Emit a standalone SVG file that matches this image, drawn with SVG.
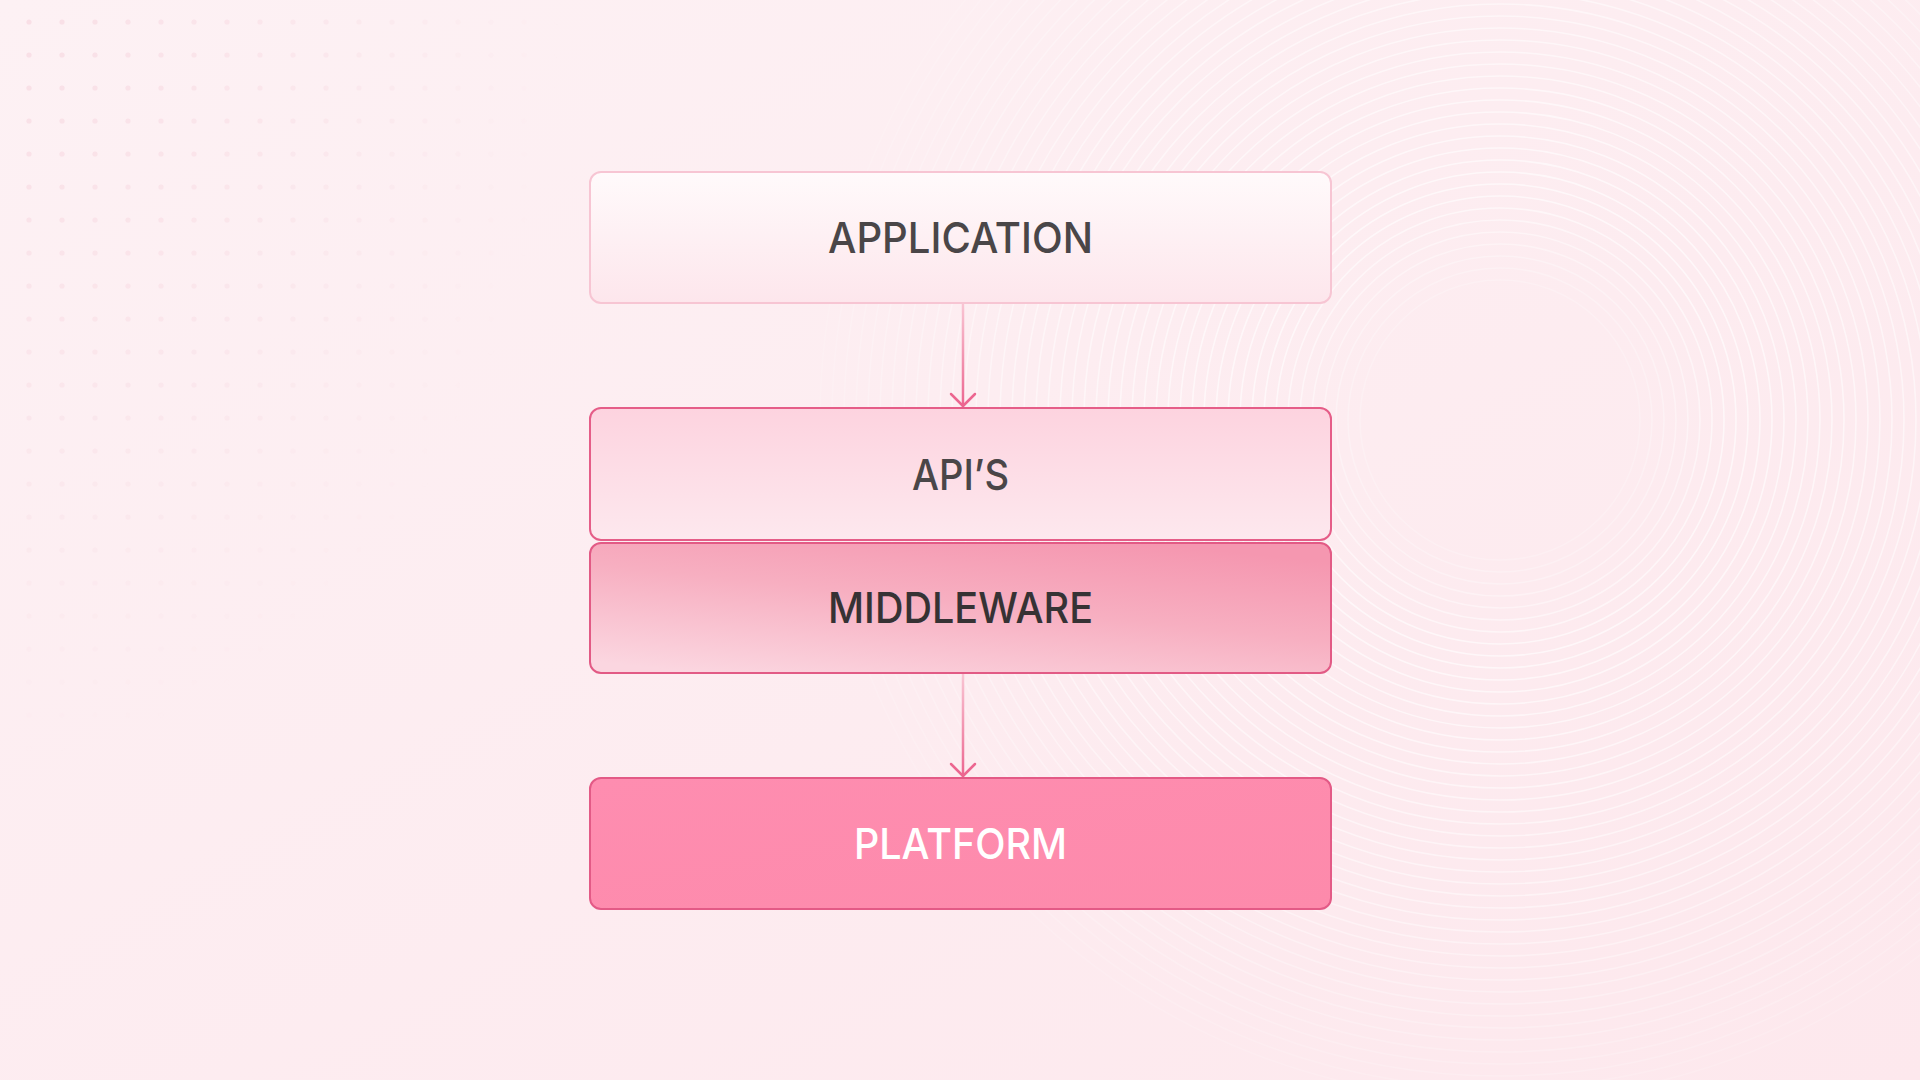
<svg xmlns="http://www.w3.org/2000/svg" width="1920" height="1080" viewBox="0 0 1920 1080">
  <defs>
    <style>
      .lbl { font-family: "Inter", "Liberation Sans", sans-serif; font-size: 43px; font-weight: 500; text-anchor: middle; }
      .dark { fill: #4a4648; }
      .darker { fill: #363234; }
      .light { fill: #ffffff; }
      .ring { fill: none; stroke: #ffffff; stroke-width: 1.6; }
      .conn { fill: none; stroke-width: 2.5; stroke-linecap: round; }
    </style>
    <linearGradient id="bg" x1="0" y1="0" x2="1" y2="1">
      <stop offset="0" stop-color="#fdf1f4"/>
      <stop offset="1" stop-color="#fde8ed"/>
    </linearGradient>
    <pattern id="dots" x="12" y="5" width="33" height="33" patternUnits="userSpaceOnUse">
      <circle cx="17" cy="17" r="2.6" fill="#f7d6df"/>
    </pattern>
    <radialGradient id="dotFade" cx="0" cy="0" r="1" gradientUnits="objectBoundingBox">
      <stop offset="0" stop-color="#fff" stop-opacity="0.7"/>
      <stop offset="0.6" stop-color="#fff" stop-opacity="0.3"/>
      <stop offset="1" stop-color="#fff" stop-opacity="0"/>
    </radialGradient>
    <mask id="dotMask">
      <rect x="0" y="0" width="560" height="760" fill="url(#dotFade)"/>
    </mask>
    <radialGradient id="ringFade" cx="1500" cy="420" r="760" gradientUnits="userSpaceOnUse">
      <stop offset="0.15" stop-color="#fff" stop-opacity="0.1"/>
      <stop offset="0.3" stop-color="#fff" stop-opacity="0.6"/>
      <stop offset="0.65" stop-color="#fff" stop-opacity="0.45"/>
      <stop offset="1" stop-color="#fff" stop-opacity="0"/>
    </radialGradient>
    <mask id="ringMask">
      <rect x="0" y="0" width="1920" height="1080" fill="url(#ringFade)"/>
    </mask>
    <linearGradient id="gApp" x1="0" y1="0" x2="0" y2="1">
      <stop offset="0" stop-color="#fffafb"/>
      <stop offset="1" stop-color="#fde6ec"/>
    </linearGradient>
    <linearGradient id="gApi" x1="0" y1="0" x2="0" y2="1">
      <stop offset="0" stop-color="#fdd3df"/>
      <stop offset="1" stop-color="#fde8ee"/>
    </linearGradient>
    <linearGradient id="gMid" x1="0.15" y1="1" x2="0.75" y2="0">
      <stop offset="0" stop-color="#fbd6e0"/>
      <stop offset="0.55" stop-color="#f7afc1"/>
      <stop offset="1" stop-color="#f597b0"/>
    </linearGradient>
    <linearGradient id="gPlat" x1="0" y1="0" x2="1" y2="1">
      <stop offset="0" stop-color="#fe8db0"/>
      <stop offset="1" stop-color="#fd8aab"/>
    </linearGradient>
    <linearGradient id="gConn1" x1="0" y1="303" x2="0" y2="407" gradientUnits="userSpaceOnUse">
      <stop offset="0" stop-color="#f9c6d4"/>
      <stop offset="1" stop-color="#ec6690"/>
    </linearGradient>
    <linearGradient id="gConn2" x1="0" y1="673" x2="0" y2="777" gradientUnits="userSpaceOnUse">
      <stop offset="0" stop-color="#f9c6d4"/>
      <stop offset="1" stop-color="#ec6690"/>
    </linearGradient>
    <marker id="arrow" viewBox="0 0 30 16" refX="15" refY="14" markerWidth="30" markerHeight="16" markerUnits="userSpaceOnUse" orient="0">
      <path d="M3,2 L15,14 L27,2" fill="none" stroke="#ec6690" stroke-width="2.5" stroke-linecap="round" stroke-linejoin="round"/>
    </marker>
  </defs>

  <!-- background -->
  <rect x="0" y="0" width="1920" height="1080" fill="url(#bg)"/>
  <rect x="0" y="0" width="560" height="760" fill="url(#dots)" mask="url(#dotMask)"/>
  <g id="rings" mask="url(#ringMask)">
    <circle class="ring" cx="1500" cy="420" r="140"/>
    <circle class="ring" cx="1500" cy="420" r="152"/>
    <circle class="ring" cx="1500" cy="420" r="164"/>
    <circle class="ring" cx="1500" cy="420" r="176"/>
    <circle class="ring" cx="1500" cy="420" r="188"/>
    <circle class="ring" cx="1500" cy="420" r="200"/>
    <circle class="ring" cx="1500" cy="420" r="212"/>
    <circle class="ring" cx="1500" cy="420" r="224"/>
    <circle class="ring" cx="1500" cy="420" r="236"/>
    <circle class="ring" cx="1500" cy="420" r="248"/>
    <circle class="ring" cx="1500" cy="420" r="260"/>
    <circle class="ring" cx="1500" cy="420" r="272"/>
    <circle class="ring" cx="1500" cy="420" r="284"/>
    <circle class="ring" cx="1500" cy="420" r="296"/>
    <circle class="ring" cx="1500" cy="420" r="308"/>
    <circle class="ring" cx="1500" cy="420" r="320"/>
    <circle class="ring" cx="1500" cy="420" r="332"/>
    <circle class="ring" cx="1500" cy="420" r="344"/>
    <circle class="ring" cx="1500" cy="420" r="356"/>
    <circle class="ring" cx="1500" cy="420" r="368"/>
    <circle class="ring" cx="1500" cy="420" r="380"/>
    <circle class="ring" cx="1500" cy="420" r="392"/>
    <circle class="ring" cx="1500" cy="420" r="404"/>
    <circle class="ring" cx="1500" cy="420" r="416"/>
    <circle class="ring" cx="1500" cy="420" r="428"/>
    <circle class="ring" cx="1500" cy="420" r="440"/>
    <circle class="ring" cx="1500" cy="420" r="452"/>
    <circle class="ring" cx="1500" cy="420" r="464"/>
    <circle class="ring" cx="1500" cy="420" r="476"/>
    <circle class="ring" cx="1500" cy="420" r="488"/>
    <circle class="ring" cx="1500" cy="420" r="500"/>
    <circle class="ring" cx="1500" cy="420" r="512"/>
    <circle class="ring" cx="1500" cy="420" r="524"/>
    <circle class="ring" cx="1500" cy="420" r="536"/>
    <circle class="ring" cx="1500" cy="420" r="548"/>
    <circle class="ring" cx="1500" cy="420" r="560"/>
    <circle class="ring" cx="1500" cy="420" r="572"/>
    <circle class="ring" cx="1500" cy="420" r="584"/>
    <circle class="ring" cx="1500" cy="420" r="596"/>
    <circle class="ring" cx="1500" cy="420" r="608"/>
    <circle class="ring" cx="1500" cy="420" r="620"/>
    <circle class="ring" cx="1500" cy="420" r="632"/>
    <circle class="ring" cx="1500" cy="420" r="644"/>
    <circle class="ring" cx="1500" cy="420" r="656"/>
    <circle class="ring" cx="1500" cy="420" r="668"/>
    <circle class="ring" cx="1500" cy="420" r="680"/>
  </g>

  <!-- connectors -->
  <g id="connectors">
    <line class="conn" x1="963" y1="304" x2="963" y2="406" stroke="url(#gConn1)" marker-end="url(#arrow)"/>
    <line class="conn" x1="963" y1="674" x2="963" y2="776" stroke="url(#gConn2)" marker-end="url(#arrow)"/>
  </g>

  <!-- nodes -->
  <g id="node-application">
    <rect x="590" y="172" width="741" height="131" rx="11" fill="url(#gApp)" stroke="#f7c5d3" stroke-width="2"/>
    <text class="lbl dark" x="960.5" y="253" textLength="265" lengthAdjust="spacingAndGlyphs">APPLICATION</text>
  </g>
  <g id="node-apis">
    <rect x="590" y="408" width="741" height="132" rx="11" fill="url(#gApi)" stroke="#e55d88" stroke-width="2"/>
    <text class="lbl dark" x="960.5" y="490" textLength="97" lengthAdjust="spacingAndGlyphs">API’S</text>
  </g>
  <g id="node-middleware">
    <rect x="590" y="543" width="741" height="130" rx="11" fill="url(#gMid)" stroke="#e25a85" stroke-width="2"/>
    <text class="lbl darker" x="960.5" y="623" textLength="265" lengthAdjust="spacingAndGlyphs">MIDDLEWARE</text>
  </g>
  <g id="node-platform">
    <rect x="590" y="778" width="741" height="131" rx="11" fill="url(#gPlat)" stroke="#e35a86" stroke-width="2"/>
    <text class="lbl light" x="960.5" y="859" textLength="213" lengthAdjust="spacingAndGlyphs">PLATFORM</text>
  </g>
</svg>
